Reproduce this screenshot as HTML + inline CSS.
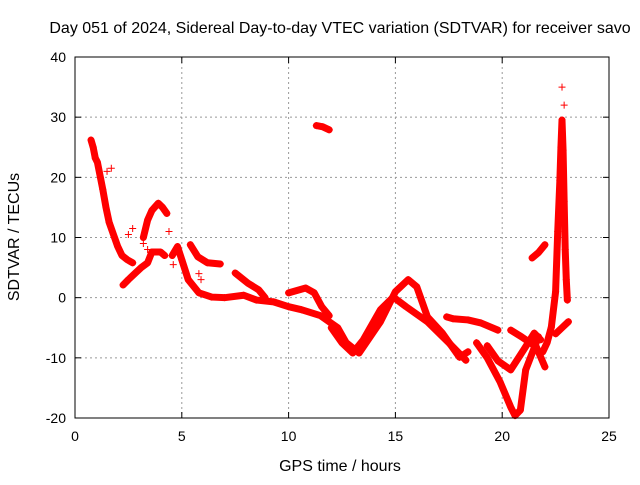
<!DOCTYPE html>
<html><head><meta charset="utf-8"><style>
body{margin:0;background:#fff;width:640px;height:480px;overflow:hidden}
svg{font-family:"Liberation Sans",sans-serif}
</style></head><body>
<svg id="chart" width="640" height="480" xmlns="http://www.w3.org/2000/svg">
<rect width="640" height="480" fill="#fff"/>
<text x="340" y="33" font-size="16" text-anchor="middle">Day 051 of 2024, Sidereal Day-to-day VTEC variation (SDTVAR) for receiver savo</text>
<text x="340" y="471" font-size="16" text-anchor="middle">GPS time / hours</text>
<text transform="translate(19,237) rotate(-90)" font-size="16" text-anchor="middle">SDTVAR / TECUs</text>
<g id="grid"></g><g id="ticks"></g><g id="marks"></g>
<rect x="75" y="57" width="534" height="361" fill="none" stroke="#000" stroke-width="1"/>
</svg>
<script>
const xTicks=[0,5,10,15,20,25];
const yTicks=[-20,-10,0,10,20,30,40];
// traces: hours and values
const t1h=[0.75,0.85,0.95,1.05,1.3,1.45,1.6,1.8,2.0,2.2,2.45,2.7];
const t1v=[26.2,25,23.2,22.5,18,15,12.5,10.5,8.5,7,6.3,5.8];
const t2h=[2.25,2.5,2.8,3.1,3.4,3.6,4.0,4.2];
const t2v=[2.1,3,4,5,5.8,7.6,7.6,7];
const t3h=[3.2,3.4,3.6,3.9,4.1,4.3];
const t3v=[10,12.9,14.5,15.7,15,14];
const t4h=[4.55,4.8,5.0,5.3,5.8,6.4,7.0,7.9,8.5,9.3,10.0,10.6,11.5,12.3,12.7,13.3,14.3,15.0,15.6,16.0,16.5,17.2,18.0,18.4];
const t4v=[7,8.5,6.3,3,0.8,0.1,0,0.4,-0.4,-0.7,-1.5,-2,-3,-5,-7.5,-9.2,-4,1,3,1.8,-3.2,-5.9,-9.9,-9];
const t5h=[5.4,5.75,6.2,6.8];
const t5v=[8.8,6.8,5.8,5.6];
const t6h=[7.5,8.1,8.6,8.9];
const t6v=[4.1,2.4,1.3,0];
const t7h=[10.0,10.8,11.2,11.55,11.9];
const t7v=[0.8,1.6,0.8,-1.5,-3];
const t8h=[12.0,12.5,13.0,13.5,14.3,14.9,15.5,16.5,17.5,18.3];
const t8v=[-5,-7.5,-9.2,-7,-2,0.1,-1.5,-4,-7.5,-10.4];
const t9h=[17.4,17.7,18.4,19.0,19.8];
const t9v=[-3.2,-3.5,-3.7,-4.2,-5.4];
const t10h=[18.8,19.3,19.9,20.4,20.6,20.85,21.1,21.7];
const t10v=[-7.5,-10,-14,-18.2,-19.6,-18.7,-12,-6.5];
const t11h=[19.3,19.8,20.4,21.0,21.5,21.8];
const t11v=[-8,-10.5,-12,-8.7,-5.9,-7];
const t12h=[20.4,20.9,21.6,22.0];
const t12v=[-5.4,-6.5,-8.2,-11.5];
const t13h=[21.9,22.1,22.3,22.5,22.6,22.7,22.75,22.8];
const t13v=[-9,-7.5,-4.9,1,11,19.5,25,29.5];
const t14h=[22.8,22.85,22.9,22.95,23.0,23.05];
const t14v=[29.5,24.5,16,8,3,-0.4];
const t15h=[22.5,22.8,23.1];
const t15v=[-6,-5,-4];
const t16h=[21.4,21.7,22.0];
const t16v=[6.6,7.5,8.8];
const t17h=[11.3,11.6,11.9];
const t17v=[28.6,28.4,27.9];
const t18h=[1.5,1.7,2.5,2.7,3.2,3.4,4.4,4.6,5.8,5.9,22.8,22.9];
const t18v=[21,21.5,10.5,11.5,9,8,11,5.5,4,3,35,32];
const traces=[[t1h,t1v],[t2h,t2v],[t3h,t3v],[t4h,t4v],[t5h,t5v],[t6h,t6v],[t7h,t7v],[t8h,t8v],[t9h,t9v],[t10h,t10v],[t11h,t11v],[t12h,t12v],[t13h,t13v],[t14h,t14v],[t15h,t15v],[t16h,t16v],[t17h,t17v]];
const X0=75,X1=609,Y0=418,Y1=57;
const sx=h=>X0+(h-0)/25*(X1-X0);
const sy=v=>Y0-(v+20)/60*(Y0-Y1);
const NS="http://www.w3.org/2000/svg";
function mk(tag,attrs,parent){const e=document.createElementNS(NS,tag);for(const k in attrs)e.setAttribute(k,attrs[k]);parent.appendChild(e);return e;}
const grid=document.getElementById('grid'),ticks=document.getElementById('ticks'),marks=document.getElementById('marks');
xTicks.forEach(t=>{const x=sx(t);
 if(t>0&&t<25){const g=mk('line',{x1:x,x2:x,y1:Y1,y2:Y0,stroke:'#999','stroke-dasharray':'2,3'},grid);
 
 }
 mk('line',{x1:x,x2:x,y1:Y0,y2:Y0-6,stroke:'#000'},ticks);mk('line',{x1:x,x2:x,y1:Y1,y2:Y1+6,stroke:'#000'},ticks);
 const l=mk('text',{x:x,y:Y0+23,'font-size':14,'text-anchor':'middle'},ticks);l.textContent=t;
 
 });
yTicks.forEach(t=>{const y=sy(t);
 if(t>-20&&t<40){const g=mk('line',{x1:X0,x2:X1,y1:y,y2:y,stroke:'#999','stroke-dasharray':'2,3'},grid);
 
 }
 mk('line',{x1:X0,x2:X0+6,y1:y,y2:y,stroke:'#000'},ticks);mk('line',{x1:X1,x2:X1-6,y1:y,y2:y,stroke:'#000'},ticks);
 const l=mk('text',{x:X0-9,y:y+5,'font-size':14,'text-anchor':'end'},ticks);l.textContent=t;
 
 });
function plus(x,y){const p=mk('path',{d:`M${x-3.5},${y}h7M${x},${y-3.5}v7`,stroke:'#f00','stroke-width':1},marks);
 
 }
traces.forEach(([hs,vs],i)=>{
 const pts=hs.map((h,j)=>sx(h)+','+sy(vs[j])).join(' ');
 const pl=mk('polyline',{points:pts,fill:'none',stroke:'#f00','stroke-width':7,'stroke-linejoin':'round','stroke-linecap':'round'},marks);
 
 
 hs.forEach((h,j)=>plus(sx(h),sy(vs[j])));
});
t18h.forEach((h,j)=>plus(sx(h),sy(t18v[j])));
</script>
</body></html>
